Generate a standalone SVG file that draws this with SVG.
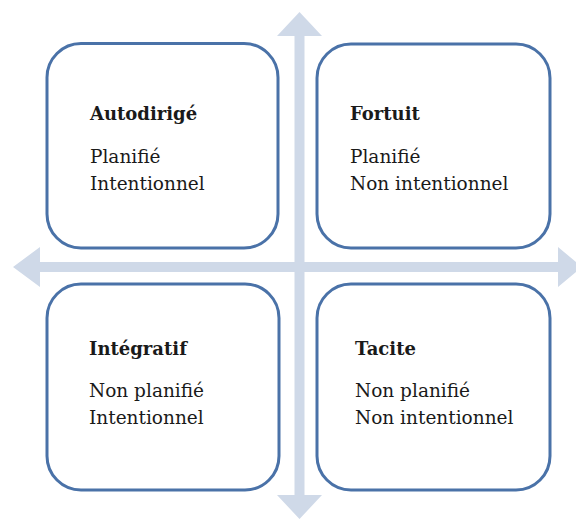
<svg xmlns="http://www.w3.org/2000/svg" width="576" height="519" viewBox="0 0 576 519">
<style>
.axis{fill:#cfd9e8;stroke:none}
.box{fill:#ffffff;stroke:#4a72a8;stroke-width:3}
.t{font-family:"DejaVu Serif","Liberation Serif",serif;font-size:18.5px;fill:#1a1a1a}
.h{font-weight:bold;font-size:18px}
</style>
<rect width="576" height="519" fill="#ffffff"/>
<g id="connectors">
<polygon class="axis" points="299.5,12 322,36 304.5,36 304.5,262 558,262 558,247 582,267 558,287 558,272 304.5,272 304.5,495 322,495 299.5,519 277,495 294.5,495 294.5,272 40,272 40,287 13,267 40,247 40,262 294.5,262 294.5,36 277,36"/>
</g>
<g id="autodirige">
<rect class="box" x="47" y="43.5" width="231" height="204.5" rx="34"/>
<text class="t h" x="90" y="120">Autodirigé</text>
<text class="t" x="90" y="163">Planifié</text>
<text class="t" x="90" y="190">Intentionnel</text>
</g>
<g id="fortuit">
<rect class="box" x="317" y="44" width="233" height="204" rx="34"/>
<text class="t h" x="350" y="120">Fortuit</text>
<text class="t" x="350" y="163">Planifié</text>
<text class="t" x="350" y="190">Non intentionnel</text>
</g>
<g id="integratif">
<rect class="box" x="47" y="284" width="232" height="206" rx="34"/>
<text class="t h" x="89" y="355">Intégratif</text>
<text class="t" x="89" y="397">Non planifié</text>
<text class="t" x="89" y="424">Intentionnel</text>
</g>
<g id="tacite">
<rect class="box" x="317" y="284" width="233" height="206" rx="34"/>
<text class="t h" x="355" y="355">Tacite</text>
<text class="t" x="355" y="397">Non planifié</text>
<text class="t" x="355" y="424">Non intentionnel</text>
</g>
</svg>
